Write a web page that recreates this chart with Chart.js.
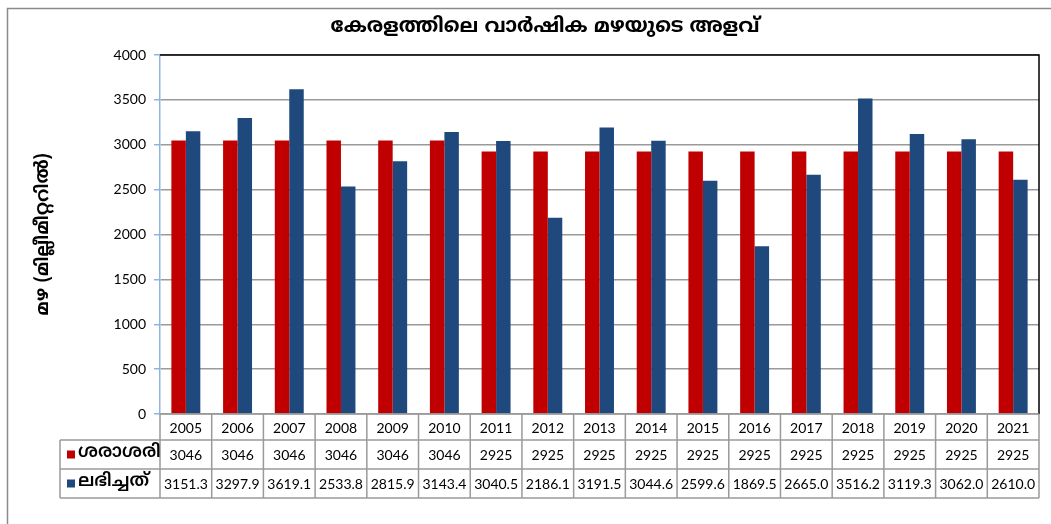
<!DOCTYPE html>
<html>
<head>
<meta charset="utf-8">
<script src="https://cdn.jsdelivr.net/npm/chart.js@4/dist/chart.umd.min.js"></script>
<style>
  html, body { margin: 0; padding: 0; background: #fff; }
  #wrap { width: 1051px; height: 524px; position: relative; }
</style>
</head>
<body>
<div id="wrap"><canvas id="c" width="1051" height="524"></canvas></div>
<script>
const chartTitle = 'കേരളത്തിലെ വാർഷിക മഴയുടെ അളവ്';
const yAxisTitle = 'മഴ (മില്ലീമീറ്ററിൽ)';
const seriesNames = ['ശരാശരി', 'ലഭിച്ചത്'];
const years = ['2005','2006','2007','2008','2009','2010','2011','2012','2013','2014','2015','2016','2017','2018','2019','2020','2021'];
const avgRain = [3046,3046,3046,3046,3046,3046,2925,2925,2925,2925,2925,2925,2925,2925,2925,2925,2925];
const actualRain = [3151.3,3297.9,3619.1,2533.8,2815.9,3143.4,3040.5,2186.1,3191.5,3044.6,2599.6,1869.5,2665.0,3516.2,3119.3,3062.0,2610.0];
const avgLabels = ['3046','3046','3046','3046','3046','3046','2925','2925','2925','2925','2925','2925','2925','2925','2925','2925','2925'];
const actualLabels = ['3151.3','3297.9','3619.1','2533.8','2815.9','3143.4','3040.5','2186.1','3191.5','3044.6','2599.6','1869.5','2665.0','3516.2','3119.3','3062.0','2610.0'];
const yMin = 0, yMax = 4000, yStep = 500;

const colors = ['#C00000', '#1F497D'];
const numFont = '14px Lato, "Open Sans", sans-serif';
const mlFont = '"Noto Sans Malayalam", "Noto Sans", sans-serif';

const TABLE_LEFT = 60;
const ROW_H = [26, 29, 29];

const decorPlugin = {
  id: 'decor',
  afterDraw(chart) {
    const ctx = chart.ctx;
    const ca = chart.chartArea;
    const xs = chart.scales.x;
    const n = years.length;
    const colW = (ca.right - ca.left) / n;
    ctx.save();

    // outer frame
    ctx.strokeStyle = '#8a8a8a';
    ctx.lineWidth = 1.5;
    ctx.beginPath();
    ctx.moveTo(7.5, 524);
    ctx.lineTo(7.5, 8.5);
    ctx.lineTo(1051, 8.5);
    ctx.stroke();

    // plot area top & right border
    ctx.strokeStyle = '#000';
    ctx.lineWidth = 1.5;
    ctx.beginPath();
    ctx.moveTo(ca.left, ca.top);
    ctx.lineTo(ca.right, ca.top);
    ctx.lineTo(ca.right, ca.bottom);
    ctx.stroke();

    // title
    ctx.fillStyle = '#000';
    ctx.font = 'bold 20px ' + mlFont;
    ctx.textAlign = 'center';
    ctx.textBaseline = 'middle';
    ctx.fillText(chartTitle, 545, 28);

    // data table
    const t0 = ca.bottom;
    const t1 = t0 + ROW_H[0];
    const t2 = t1 + ROW_H[1];
    const t3 = t2 + ROW_H[2];
    ctx.strokeStyle = '#9a9a9a';
    ctx.lineWidth = 1.5;
    ctx.beginPath();
    ctx.moveTo(ca.left, t0); ctx.lineTo(ca.right, t0);
    ctx.moveTo(TABLE_LEFT, t1); ctx.lineTo(ca.right, t1);
    ctx.moveTo(TABLE_LEFT, t2); ctx.lineTo(ca.right, t2);
    ctx.moveTo(TABLE_LEFT, t3); ctx.lineTo(ca.right, t3);
    ctx.moveTo(TABLE_LEFT, t1); ctx.lineTo(TABLE_LEFT, t3);
    for (let i = 0; i <= n; i++) {
      const x = ca.left + i * colW;
      ctx.moveTo(x, t0); ctx.lineTo(x, t3);
    }
    ctx.stroke();

    ctx.fillStyle = '#000';
    ctx.font = numFont;
    ctx.textAlign = 'center';
    ctx.textBaseline = 'middle';
    for (let i = 0; i < n; i++) {
      const cx = xs.getPixelForValue(i);
      ctx.fillText(years[i], cx, (t0 + t1) / 2 + 1);
      ctx.fillText(avgLabels[i], cx, (t1 + t2) / 2 + 1);
      ctx.fillText(actualLabels[i], cx, (t2 + t3) / 2 + 1);
    }
    const rows = [[t1, t2], [t2, t3]];
    for (let r = 0; r < 2; r++) {
      const cy = (rows[r][0] + rows[r][1]) / 2;
      ctx.fillStyle = colors[r];
      ctx.fillRect(67, cy - 4, 8, 8);
      ctx.fillStyle = '#000';
      ctx.font = '600 18px ' + mlFont;
      ctx.textAlign = 'left';
      ctx.fillText(seriesNames[r], 78, cy - 1);
    }
    ctx.restore();
  }
};

new Chart(document.getElementById('c'), {
  type: 'bar',
  data: {
    labels: years,
    datasets: [
      { label: seriesNames[0], data: avgRain, backgroundColor: colors[0], borderWidth: 0 },
      { label: seriesNames[1], data: actualRain, backgroundColor: colors[1], borderWidth: 0 }
    ]
  },
  options: {
    responsive: false,
    animation: false,
    devicePixelRatio: 1,
    layout: { padding: { left: 0, top: 55, right: 12, bottom: 26 } },
    datasets: { bar: { categoryPercentage: 0.56, barPercentage: 1.0 } },
    plugins: {
      legend: { display: false },
      title: { display: false },
      tooltip: { enabled: false }
    },
    scales: {
      x: {
        ticks: { display: false },
        grid: { display: false, drawTicks: false },
        border: { display: false },
        afterFit(scale) { scale.height = 84; }
      },
      y: {
        min: yMin, max: yMax,
        ticks: {
          stepSize: yStep,
          color: '#000',
          font: { family: 'Lato, "Open Sans", sans-serif', size: 14 },
          padding: 8,
          callback: (v) => String(v)
        },
        grid: {
          color: '#9a9a9a',
          lineWidth: 1.5,
          tickLength: 6,
          tickColor: '#8EB4E3'
        },
        border: { display: true, color: '#8EB4E3', width: 1.5 },
        title: {
          display: true,
          text: yAxisTitle,
          color: '#000',
          font: { family: mlFont, size: 18, weight: 'bold' },
          padding: { top: 34, bottom: 0 }
        },
        afterFit(scale) { scale.width = 160; }
      }
    }
  },
  plugins: [decorPlugin]
});
</script>
</body>
</html>
